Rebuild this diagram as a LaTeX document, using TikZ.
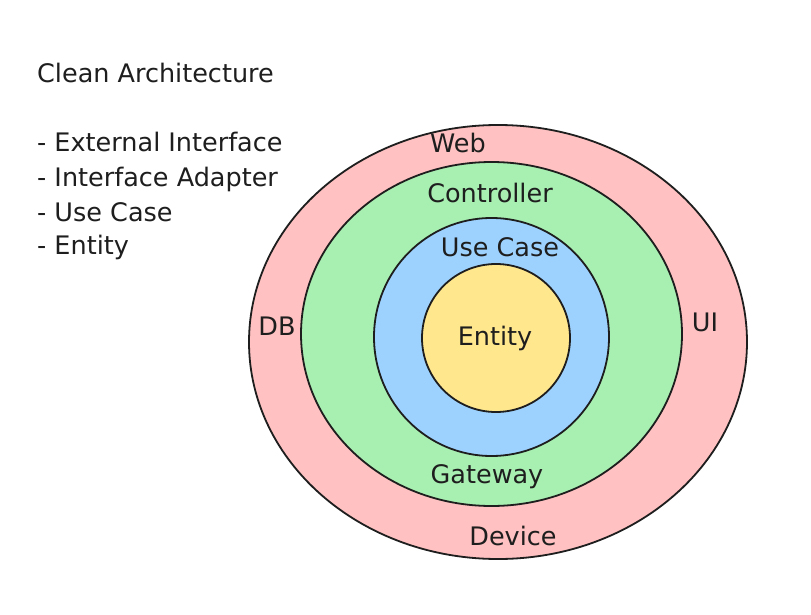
\documentclass[tikz,border=0pt]{standalone}
\usepackage{fontspec}
\setmainfont{DejaVu Sans}
\usetikzlibrary{shapes.geometric}
\definecolor{ink}{HTML}{1E1E1E}
\definecolor{ringred}{HTML}{FFC1C1}
\definecolor{ringgreen}{HTML}{A8EFB2}
\definecolor{ringblue}{HTML}{9DD2FF}
\definecolor{ringyellow}{HTML}{FFE78E}
\tikzset{
  ring/.style={ellipse, draw=ink, line width=1.8pt, inner sep=0pt},
  lbl/.style={text=ink, font=\fontsize{25.5}{28}\selectfont, inner sep=0pt},
  note/.style={text=ink, font=\fontsize{25.5}{28}\selectfont, inner sep=0pt, anchor=base west},
}
\begin{document}
\begin{tikzpicture}[x=1pt,y=-1pt]
\useasboundingbox (0,0) rectangle (811,615);
\fill[white] (0,0) rectangle (811,615);
% rings
\node[ring, fill=ringred, minimum width=498pt, minimum height=434pt] (outer) at (498,342) {};
\node[ring, fill=ringgreen, minimum width=381pt, minimum height=344pt] (adapter) at (491.5,334) {};
\node[ring, fill=ringblue, minimum width=235pt, minimum height=238pt] (usecase) at (491.5,337) {};
\node[ring, fill=ringyellow, minimum width=148pt, minimum height=148pt] (entity) at (496,338) {};
% ring labels
\node[lbl] (web) at (458,143) {Web};
\node[lbl] (ctrl) at (490,193) {Controller};
\node[lbl] (uc) at (500,247) {Use Case};
\node[lbl] (ent) at (495,338) {Entity};
\node[lbl] (db) at (277,326) {DB};
\node[lbl] (ui) at (705,322) {UI};
\node[lbl] (gw) at (487,477) {Gateway};
\node[lbl] (dev) at (513,536) {Device};
% notes
\node[note] (title) at (37,83) {Clean Architecture};
\node[note] (l1) at (37,152) {- External Interface};
\node[note] (l2) at (37,186) {- Interface Adapter};
\node[note] (l3) at (37,221) {- Use Case};
\node[note] (l4) at (37,254) {- Entity};
\end{tikzpicture}
\end{document}
